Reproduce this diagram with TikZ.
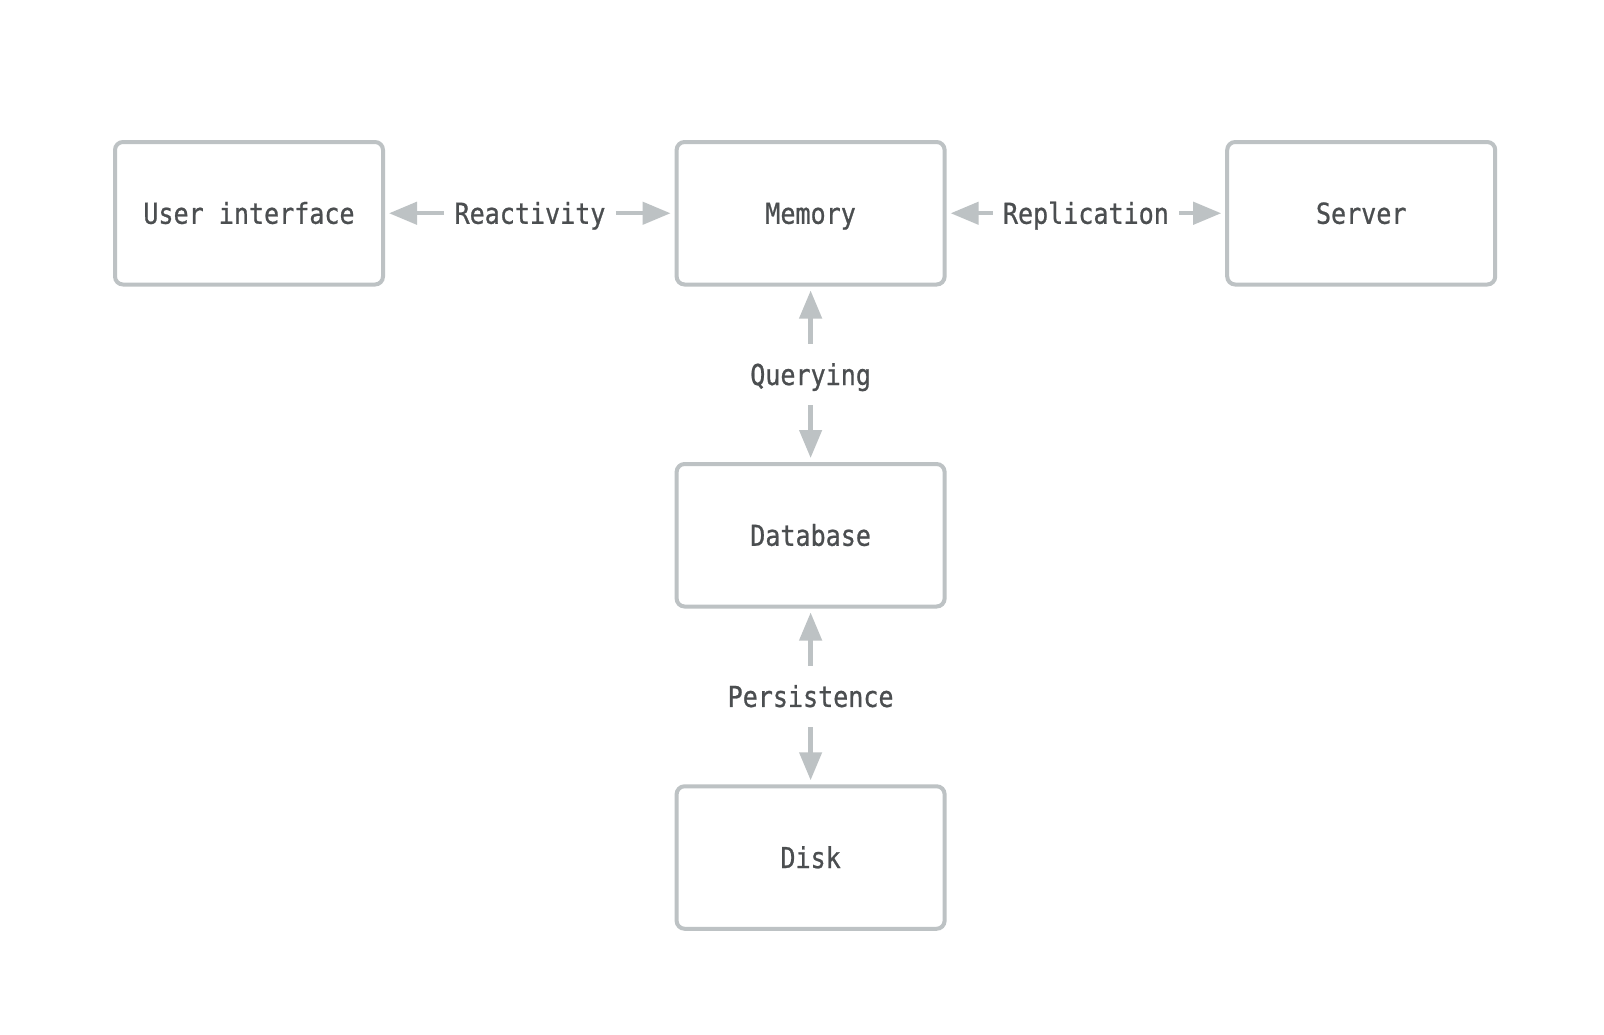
\documentclass[tikz,border=0pt]{standalone}
\usepackage{fontspec}
\usepackage{tikz}
\usetikzlibrary{arrows.meta}

\newfontfamily\boxfont[FakeStretch=0.87,FakeBold=0.8]{DejaVu Sans Mono}
\definecolor{edgegray}{HTML}{BDC2C4}
\definecolor{textgray}{HTML}{4B4E50}

\begin{document}
\begin{tikzpicture}[x=0.5pt, y=-0.5pt,
    box/.style={draw=edgegray, line width=2pt, rounded corners=4pt,
      minimum width=134pt, minimum height=71.25pt,
      text height=10.5pt, text depth=0pt,
      font=\boxfont\fontsize{14.4pt}{17pt}\selectfont, text=textgray},
    lbl/.style={font=\boxfont\fontsize{14.4pt}{17pt}\selectfont, text=textgray,
      text height=10.5pt, text depth=0pt, inner xsep=5pt, inner ysep=10pt},
    link/.style={draw=edgegray, line width=2.2pt,
      -{Triangle[length=14pt,width=11pt]}, shorten >=2pt}]

      \fill[white] (0,0) rectangle (1604,1034);

      \node[box] (ui) at (249,213.25) {User interface};
      \node[box] (mem) at (810.6,213.25) {Memory};
      \node[box] (srv) at (1361.2,213.25) {Server};

      \node[box] (db) at (810.6,535.25) {Database};
      \node[box] (disk) at (810.6,857.5) {Disk};

      \node[lbl] (react) at (530,213.25) {Reactivity};
      \draw[link] (react) -- (ui);
      \draw[link] (react) -- (mem);

      \node[lbl] (repl) at (1085.9,213.25) {Replication};
      \draw[link] (repl) -- (mem);
      \draw[link] (repl) -- (srv);

      \node[lbl] (query) at (810.6,374.5) {Querying};
      \draw[link] (query) -- (mem);
      \draw[link] (query) -- (db);

      \node[lbl] (persist) at (810.6,696.4) {Persistence};
      \draw[link] (persist) -- (db);
      \draw[link] (persist) -- (disk);

    \end{tikzpicture}
\end{document}
